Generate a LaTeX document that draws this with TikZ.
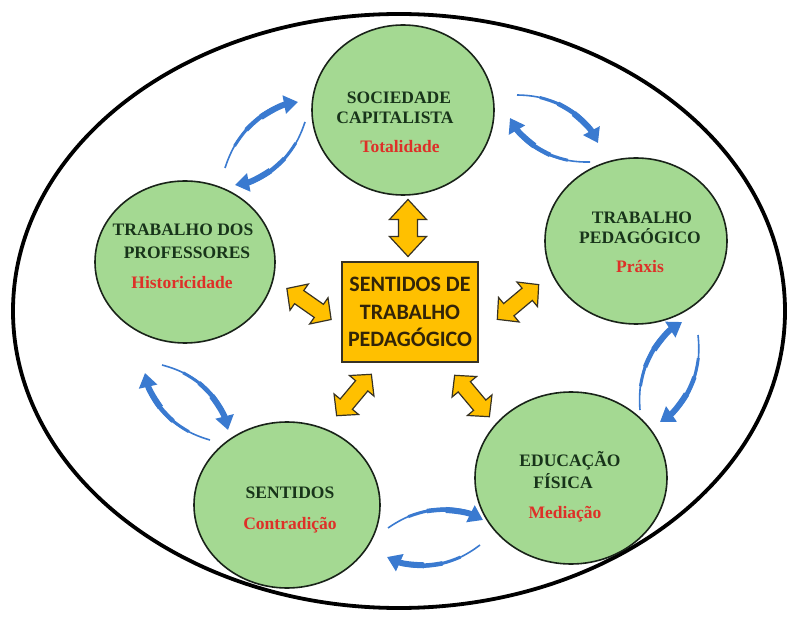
\documentclass[tikz,border=0pt]{standalone}
\usepackage{fontspec}
\setmainfont{Liberation Serif}
\newfontfamily\boxfont{Carlito}
\usetikzlibrary{shapes.geometric,arrows.meta,calc}
\definecolor{cgreen}{RGB}{164,217,146}
\definecolor{cedge}{RGB}{25,35,25}
\definecolor{tgreen}{RGB}{24,52,26}
\definecolor{tred}{RGB}{222,48,40}
\definecolor{byellow}{RGB}{255,192,0}
\definecolor{bedge}{RGB}{55,50,35}
\definecolor{btext}{RGB}{50,36,8}
\definecolor{ablue}{RGB}{58,122,208}
\tikzset{
 circ/.style={ellipse, draw=cedge, line width=1.6pt, fill=cgreen, inner sep=0pt},
 gtext/.style={anchor=base, text=tgreen, font=\fontsize{17.5}{20}\selectfont\bfseries, inner sep=0pt},
 rtext/.style={anchor=base, text=tred, font=\fontsize{17.5}{20}\selectfont\bfseries, inner sep=0pt},
 cbox/.style={draw=bedge, line width=1.5pt, fill=byellow, minimum width=136pt, minimum height=100pt, align=center, text=btext, font=\boxfont\fontsize{22}{27.5}\selectfont\bfseries},
 yarrow/.style={fill=byellow, draw=bedge, line width=1.2pt, line join=miter},
 bluA/.style={draw=ablue, line width=1.6pt, shorten >=9pt},
 bluB/.style={draw=ablue, line width=3pt, shorten >=9pt},
 bluC/.style={draw=ablue, line width=4.5pt, shorten >=9pt},
 bluD/.style={draw=ablue, line width=6pt, -{Triangle[width=18pt,length=14pt]}},
}
\newcommand\bluarr[3]{%
 \path (#1) to[bend left=30] coordinate[pos=0.22] (#3a) coordinate[pos=0.42] (#3b) coordinate[pos=0.62] (#3c) (#2);
 \draw[bluA] (#1) to[bend left=30] (#2);
 \draw[bluB] (#3a) to[bend left=23.4] (#2);
 \draw[bluC] (#3b) to[bend left=17.4] (#2);
 \draw[bluD] (#3c) to[bend left=11.4] (#2);}
% name, position, angle, half length, head length, head half width, shaft half width
\newcommand\yarr[7]{%
 \coordinate (#1) at (#2);
 \path[yarrow, shift={(#1)}, rotate=#3] (-#4,0) -- ({-#4+#5},#6) -- ({-#4+#5},#7) -- ({#4-#5},#7) -- ({#4-#5},#6) -- (#4,0) -- ({#4-#5},-#6) -- ({#4-#5},-#7) -- ({-#4+#5},-#7) -- ({-#4+#5},-#6) -- cycle;}
\begin{document}
\begin{tikzpicture}[x=1pt,y=-1pt]
\fill[white] (0,0) rectangle (795,617);
\useasboundingbox (0,0) rectangle (795,617);
\node[draw=black, line width=3.8pt, ellipse, minimum width=772pt, minimum height=594pt, inner sep=0pt] (outer) at (399,311) {};
% circles
\node[circ, minimum width=182pt, minimum height=170pt] (soc) at (403,110) {};
\node[circ, minimum width=180pt, minimum height=162pt] (prof) at (185,262) {};
\node[circ, minimum width=182pt, minimum height=166pt] (ped) at (636,241) {};
\node[circ, minimum width=186pt, minimum height=166pt] (sent) at (287,505) {};
\node[circ, minimum width=192pt, minimum height=172pt] (edu) at (571,478) {};
% texts
\node[gtext] (soc1) at (399,104) {SOCIEDADE};
\node[gtext] (soc2) at (395,124) {CAPITALISTA};
\node[rtext] (soc3) at (400,153) {Totalidade};
\node[gtext] (prof1) at (183,236) {TRABALHO DOS};
\node[gtext] (prof2) at (187,259) {PROFESSORES};
\node[rtext] (prof3) at (182,289) {Historicidade};
\node[gtext] (ped1) at (642,224) {TRABALHO};
\node[gtext] (ped2) at (640,244) {PEDAGÓGICO};
\node[rtext] (ped3) at (640,273) {Práxis};
\node[gtext] (sent1) at (290,498) {SENTIDOS};
\node[rtext] (sent2) at (290,529) {Contradição};
\node[gtext] (edu1) at (570,466) {EDUCAÇÃO};
\node[gtext] (edu2) at (563,488) {FÍSICA};
\node[rtext] (edu3) at (565,518) {Mediação};
% central box
\node[cbox] (box) at (410,312) {SENTIDOS DE\\TRABALHO\\PEDAGÓGICO};
% yellow double arrows
\yarr{ya1}{408,228}{90}{28.5}{20}{18.5}{9.5}
\yarr{ya2}{309,304}{-35}{27}{15}{16}{8}
\yarr{ya3}{518,302}{40}{27}{15}{16}{8}
\yarr{ya4}{354,395}{50}{27}{15}{16}{8}
\yarr{ya5}{472,396}{-50}{27}{15}{16}{8}
% blue arrow end points
\coordinate (t1) at (225,168); \coordinate (h1) at (298,102);
\coordinate (t2) at (305,122); \coordinate (h2) at (235,185);
\coordinate (t3) at (517,95);  \coordinate (h3) at (598,143);
\coordinate (t4) at (590,162); \coordinate (h4) at (510,118);
\coordinate (t5) at (640,410); \coordinate (h5) at (682,322);
\coordinate (t6) at (698,335); \coordinate (h6) at (660,422);
\coordinate (t7) at (388,528); \coordinate (h7) at (483,520);
\coordinate (t8) at (480,545); \coordinate (h8) at (387,557);
\coordinate (t9) at (210,440); \coordinate (h9) at (145,373);
\coordinate (t10) at (162,365); \coordinate (h10) at (228,430);
\bluarr{t1}{h1}{p1}
\bluarr{t2}{h2}{p2}
\bluarr{t3}{h3}{p3}
\bluarr{t4}{h4}{p4}
\bluarr{t5}{h5}{p5}
\bluarr{t6}{h6}{p6}
\bluarr{t7}{h7}{p7}
\bluarr{t8}{h8}{p8}
\bluarr{t9}{h9}{p9}
\bluarr{t10}{h10}{p10}
\end{tikzpicture}
\end{document}
